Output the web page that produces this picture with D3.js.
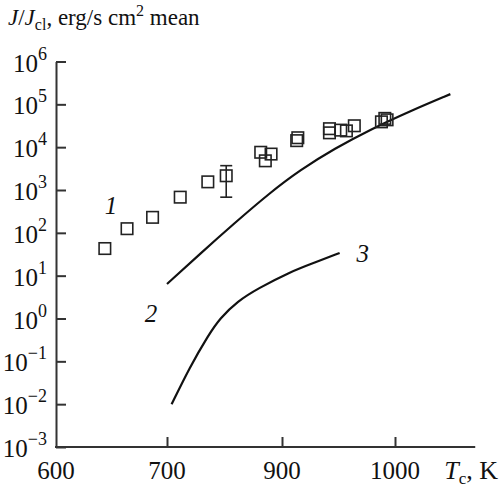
<!DOCTYPE html>
<html><head><meta charset="utf-8">
<script src="https://cdn.jsdelivr.net/npm/d3@7"></script>
<style>
body{margin:0;background:#fff}
svg{display:block}
text{font-family:"Liberation Serif","Times New Roman",serif;fill:#111}
</style>
</head><body>
<svg id="chart" width="499" height="487"></svg>
<script>
// Series 1: measured nucleation rate (squares)
const expT = [644, 664, 687, 723, 771, 803, 863, 881, 871, 914, 913, 942, 942, 952, 957, 964, 988, 991, 993];
const expJ = [43, 125, 230, 680, 1550, 2150, 7600, 6900, 4800, 16600, 14200, 27000, 21600, 25000, 24000, 31600, 39000, 47000, 43500];
// Error bar on one measured point
const errT = [803];
const errLo = [680];
const errHi = [3700];
// Series 2: upper calculated curve
const curve2T = [700, 757, 818, 879, 916, 947, 978, 1013, 1049];
const curve2J = [6.4, 32, 171, 860, 2930, 9400, 25600, 68700, 173000];
// Series 3: lower calculated curve
const curve3T = [708, 740, 772, 792, 823, 858, 907, 929, 951];
const curve3J = [0.0099, 0.075, 0.41, 1.01, 2.56, 5.0, 12.2, 20.3, 33.8];
// Axis ticks
const xTickValues = [600, 700, 900, 1000];
const xTickLabels = ["600", "700", "900", "1000"];
const yExponents = [-3, -2, -1, 0, 1, 2, 3, 4, 5, 6];
// Curve labels: text, T, J
const curveLabels = [
  {text: "1", t: 649.5, j: 280},
  {text: "2", t: 685.5, j: 0.85},
  {text: "3", t: 971.5, j: 21}
];
const xEnd = 1071;

const svg = d3.select("#chart");
const axisColor = "#333";

const x = d3.scaleLinear().domain(xTickValues).range([56, 167, 282, 395]);
const y = d3.scaleLog().domain([1e-3, 1e6]).range([447, 61.5]);

// Y axis with inward ticks
const yAxis = svg.append("g").attr("transform", `translate(${x(600)},0)`)
  .call(d3.axisLeft(y).tickValues(yExponents.map(e => Math.pow(10, e)))
    .tickSize(-10).tickSizeOuter(0).tickFormat(""));
yAxis.select(".domain").attr("stroke", axisColor).attr("stroke-width", 2);
yAxis.selectAll(".tick line").attr("stroke", axisColor).attr("stroke-width", 2);

// X axis: ticks pointing up, line extends past the last tick
const xAxis = svg.append("g").attr("transform", `translate(0,${y(1e-3)})`)
  .call(d3.axisBottom(x).tickValues(xTickValues.slice(1)).tickSize(-10).tickSizeOuter(0).tickFormat(""));
xAxis.select(".domain").remove();
xAxis.selectAll(".tick line").attr("stroke", axisColor).attr("stroke-width", 2);
svg.append("line")
  .attr("x1", x(600) - 1).attr("x2", x(xEnd))
  .attr("y1", y(1e-3)).attr("y2", y(1e-3))
  .attr("stroke", axisColor).attr("stroke-width", 2);

// X tick labels
svg.selectAll(".xlab").data(xTickValues).join("text")
  .attr("class", "xlab")
  .attr("x", d => x(d)).attr("y", 479)
  .attr("text-anchor", "middle").attr("font-size", 25)
  .text((d, i) => xTickLabels[i]);

// Y tick labels as powers of ten
const ylab = svg.selectAll(".ylab").data(yExponents).join("text")
  .attr("class", "ylab")
  .attr("x", 47).attr("y", d => y(Math.pow(10, d)) + 10)
  .attr("text-anchor", "end").attr("font-size", 25);
ylab.append("tspan").text("10");
ylab.append("tspan").attr("font-size", 18).attr("dy", -12)
  .text(d => (d < 0 ? "\u2212" + Math.abs(d) : String(d)));

// Axis titles
const yt = svg.append("text").attr("x", 8).attr("y", 25).attr("font-size", 23);
yt.append("tspan").attr("font-style", "italic").text("J");
yt.append("tspan").text("/");
yt.append("tspan").attr("font-style", "italic").text("J");
yt.append("tspan").attr("font-size", 16).attr("dy", 5).text("cl");
yt.append("tspan").attr("dy", -5).text(", erg/s cm");
yt.append("tspan").attr("font-size", 16).attr("dy", -9).text("2");
yt.append("tspan").attr("dy", 9).text(" mean");

const xt = svg.append("text").attr("x", 498).attr("y", 479).attr("font-size", 26).attr("text-anchor", "end");
xt.append("tspan").attr("font-style", "italic").text("T");
xt.append("tspan").attr("font-size", 17).attr("dy", 5).text("c");
xt.append("tspan").attr("dy", -5).text(", K");

// Calculated curves (smoothed through the sampled values)
const line = d3.line().x(d => x(d[0])).y(d => y(d[1])).curve(d3.curveBasis);
svg.append("path").datum(d3.zip(curve2T, curve2J)).attr("d", line)
  .attr("fill", "none").attr("stroke", "#111").attr("stroke-width", 2.2);
svg.append("path").datum(d3.zip(curve3T, curve3J)).attr("d", line)
  .attr("fill", "none").attr("stroke", "#111").attr("stroke-width", 2.2);

// Error bar
const eb = svg.append("g").attr("stroke", "#222").attr("stroke-width", 1.6);
errT.forEach((t, i) => {
  eb.append("line").attr("x1", x(t)).attr("x2", x(t)).attr("y1", y(errLo[i])).attr("y2", y(errHi[i]));
  [errLo[i], errHi[i]].forEach(v => eb.append("line")
    .attr("x1", x(t) - 6).attr("x2", x(t) + 6).attr("y1", y(v)).attr("y2", y(v)));
});

// Measured squares
const sq = 11.5;
svg.selectAll(".pt").data(d3.zip(expT, expJ)).join("rect")
  .attr("class", "pt")
  .attr("x", d => x(d[0]) - sq / 2).attr("y", d => y(d[1]) - sq / 2)
  .attr("width", sq).attr("height", sq)
  .attr("fill", "none").attr("stroke", "#222").attr("stroke-width", 1.6);

// Curve numbers
svg.selectAll(".clab").data(curveLabels).join("text")
  .attr("class", "clab")
  .attr("x", d => x(d.t)).attr("y", d => y(d.j))
  .attr("text-anchor", "middle").attr("font-size", 25).attr("font-style", "italic")
  .text(d => d.text);
</script>
</body></html>
